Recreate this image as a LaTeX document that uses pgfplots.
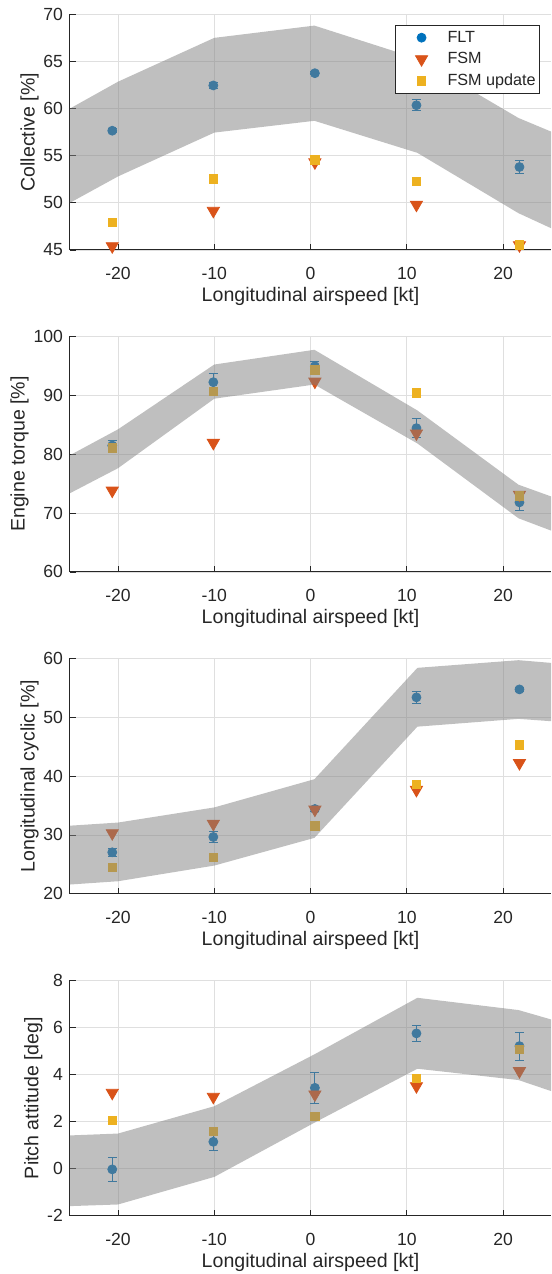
\documentclass[border=0pt]{standalone}
\usepackage{fontspec}
\setmainfont{Liberation Sans}
\usepackage{pgfplots}
\pgfplotsset{compat=1.18}

\definecolor{fltc}{rgb}{0,0.447,0.741}
\definecolor{fsmc}{rgb}{0.85,0.325,0.098}
\definecolor{updc}{rgb}{0.929,0.694,0.125}
\definecolor{axc}{HTML}{262626}
\definecolor{gridc}{HTML}{DFDFDF}

\pgfplotsset{
  panel/.style={
    scale only axis, width=241pt, height=118pt,
    xmin=-25, xmax=25, xtick={-20,-10,0,10,20},
    axis x line=bottom, axis y line=left,
    axis line style={-, draw=axc, line width=0.5pt},
    tick align=inside, major tick length=3pt,
    tick style={draw=axc, line width=0.4pt},
    grid=major, grid style={draw=gridc, line width=0.4pt},
    ticklabel style={font=\fontsize{8.8}{10}\selectfont, text=axc},
    xticklabel style={yshift=-5pt},
    /pgf/number format/assume math mode=true,
    label style={font=\fontsize{9.8}{11}\selectfont, text=axc},
    ylabel shift=-4.5pt,
    xlabel={Longitudinal airspeed [kt]},
    xlabel style={at={(rel axis cs:0.5,0)}, anchor=base, yshift=-25.9pt},
    clip mode=individual,
  },
  flt/.style={only marks, mark=*, color=fltc, mark size=2.25pt,
    error bars/.cd, y dir=both, y explicit,
    error bar style={fltc, line width=0.5pt},
    error mark options={rotate=90, mark size=2.25pt, line width=0.5pt, fltc}},
  fsm/.style={only marks, mark=triangle*, color=fsmc, mark size=3.5pt,
    mark options={rotate=180}},
  upd/.style={only marks, mark=square*, color=updc, mark size=2.1pt},
  band/.style={forget plot, draw=none, fill=black!50, fill opacity=0.5},
}

\begin{document}
\begin{tikzpicture}
\useasboundingbox (-35pt,7.15pt) rectangle (241pt,-630.75pt);

% Collective
\begin{axis}[panel, name=a1, at={(0pt,0pt)}, anchor=north west,
  ymin=45, ymax=70, ytick={45,50,...,70},
  ylabel={Collective [\%]},
  legend style={at={(0.977,0.955)}, anchor=north east, draw=axc,
    line width=0.4pt, fill=white, font=\fontsize{8.1}{9}\selectfont,
    text=axc, inner sep=2.05pt, row sep=2.5pt,
    nodes={inner sep=0pt, text height=6.5pt, text depth=1.8pt}},
  legend cell align=left,
  legend image code/.code={\path[draw=none, fill=none] (0pt,0pt) -- (23.95pt,0pt);
    \draw[#1, /tikz/only marks] plot coordinates {(10.95pt,0pt)};}]
\addplot[flt] coordinates {(-20.6,57.65) +- (0,0.2) (-10.1,62.45) +- (0,0.35)
  (0.45,63.75) +- (0,0.15) (11.0,60.35) +- (0,0.6) (21.7,53.8) +- (0,0.7)};
\addplot[fsm] coordinates {(-20.6,45.4) (-10.1,49.15) (0.45,54.3) (11.0,49.8) (21.7,45.5)};
\addplot[upd] coordinates {(-20.6,47.95) (-10.1,52.55) (0.45,54.55) (11.0,52.3) (21.7,45.55)};
\addplot[band] coordinates {(-25,60.0) (-20,62.85) (-10,67.5) (0.4,68.8) (11.1,65.3) (21.6,59.0) (25,57.55)
  (25,47.3) (21.6,48.9) (11.1,55.3) (0.4,58.7) (-10,57.45) (-20,52.8) (-25,50.0)} -- cycle;
\legend{FLT,FSM,FSM update}
\end{axis}

% Engine torque
\begin{axis}[panel, name=a2, at={(0pt,-161.2pt)}, anchor=north west,
  ymin=60, ymax=100, ytick={60,70,...,100},
  ylabel={Engine torque [\%]}]
\addplot[flt] coordinates {(-20.6,81.45) +- (0,0.8) (-10.1,92.2) +- (0,1.5)
  (0.45,94.9) +- (0,0.8) (11.0,84.4) +- (0,1.6) (21.7,71.8) +- (0,1.4)};
\addplot[fsm] coordinates {(-20.6,73.8) (-10.1,81.9) (0.45,92.3) (11.0,83.5) (21.7,73.1)};
\addplot[upd] coordinates {(-20.6,81.05) (-10.1,90.65) (0.45,94.3) (11.0,90.4) (21.7,72.9)};
\addplot[band] coordinates {(-25,79.8) (-20,84.2) (-10,95.2) (0.4,97.7) (11.1,87.4) (21.6,74.8) (25,72.8)
  (25,67.0) (21.6,69.1) (11.1,81.8) (0.4,91.8) (-10,89.4) (-20,77.6) (-25,73.35)} -- cycle;
\end{axis}

% Longitudinal cyclic
\begin{axis}[panel, name=a3, at={(0pt,-322.4pt)}, anchor=north west,
  ymin=20, ymax=60, ytick={20,30,...,60},
  ylabel={Longitudinal cyclic [\%]}]
\addplot[flt] coordinates {(-20.6,27.05) +- (0,0.7) (-10.1,29.65) +- (0,0.9)
  (0.45,34.4) +- (0,0.5) (11.0,53.35) +- (0,1.0) (21.7,54.7) +- (0,0.4)};
\addplot[fsm] coordinates {(-20.6,30.3) (-10.1,31.9) (0.45,34.3) (11.0,37.65) (21.7,42.2)};
\addplot[upd] coordinates {(-20.6,24.5) (-10.1,26.2) (0.45,31.55) (11.0,38.6) (21.7,45.3)};
\addplot[band] coordinates {(-25,31.57) (-20,32.1) (-10,34.67) (0.4,39.46) (11.1,58.36) (21.6,59.66) (25,59.2)
  (25,49.3) (21.6,49.7) (11.1,48.38) (0.4,29.5) (-10,24.8) (-20,22.14) (-25,21.58)} -- cycle;
\end{axis}

% Pitch attitude
\begin{axis}[panel, name=a4, at={(0pt,-483.6pt)}, anchor=north west,
  ymin=-2, ymax=8, ytick={-2,0,...,8},
  ylabel={Pitch attitude [deg]}]
\addplot[flt] coordinates {(-20.6,-0.03) +- (0,0.5) (-10.1,1.14) +- (0,0.37)
  (0.45,3.43) +- (0,0.66) (11.0,5.74) +- (0,0.35) (21.7,5.2) +- (0,0.59)};
\addplot[fsm] coordinates {(-20.6,3.22) (-10.1,3.05) (0.45,3.15) (11.0,3.5) (21.7,4.14)};
\addplot[upd] coordinates {(-20.6,2.06) (-10.1,1.59) (0.45,2.23) (11.0,3.83) (21.7,5.06)};
\addplot[band] coordinates {(-25,1.41) (-20,1.49) (-10,2.65) (0.4,4.85) (11.1,7.25) (21.6,6.73) (25,6.33)
  (25,3.29) (21.6,3.76) (11.1,4.24) (0.4,1.95) (-10,-0.35) (-20,-1.52) (-25,-1.59)} -- cycle;
\end{axis}
\end{tikzpicture}
\end{document}
